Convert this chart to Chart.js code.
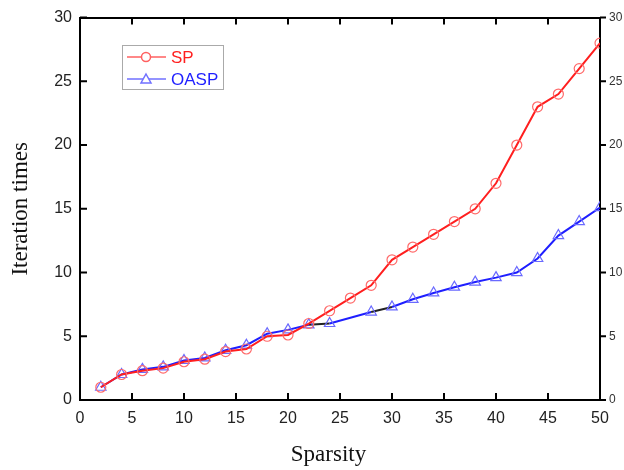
<!DOCTYPE html>
<html>
<head>
<meta charset="utf-8">
<script src="https://cdn.jsdelivr.net/npm/chart.js@4"></script>
<style>
  html, body { margin: 0; padding: 0; background: #fff; }
  #wrap { width: 624px; height: 470px; }
</style>
</head>
<body>
<div id="wrap"><canvas id="chart" width="624" height="470"></canvas></div>
<script>
// data
const sparsity = [2, 4, 6, 8, 10, 12, 14, 16, 18, 20, 22, 24, 26, 28, 30, 32, 34, 36, 38, 40, 42, 44, 46, 48, 50];
const spValues = [1, 2, 2.3, 2.5, 3, 3.2, 3.8, 4, 5, 5.1, 6, 7, 8, 9, 11, 12, 13, 14, 15, 17, 20, 23, 24, 26, 28];
const oaspSparsity = [2, 4, 6, 8, 10, 12, 14, 16, 18, 20, 22, 24, 28, 30, 32, 34, 36, 38, 40, 42, 44, 46, 48, 50];
const oaspValues = [1, 2, 2.4, 2.6, 3.1, 3.3, 3.9, 4.3, 5.2, 5.5, 5.9, 6.0, 6.9, 7.3, 7.9, 8.4, 8.85, 9.25, 9.6, 10, 11.1, 12.9, 14, 15.1];
const xTicks = [0, 5, 10, 15, 20, 25, 30, 35, 40, 45, 50];
const yTicks = [0, 5, 10, 15, 20, 25, 30];

const RED = '#ff1f1f';
const BLUE = '#1f1fff';

// petits traits de graduation vers l'intérieur + légende dans le cadre
const frameTicks = {
  id: 'frameTicks',
  afterDraw(chart) {
    const ctx = chart.ctx;
    const a = chart.chartArea;
    const x = chart.scales.x;
    const y = chart.scales.y;
    ctx.save();
    ctx.strokeStyle = '#000';
    ctx.lineWidth = 2;
    ctx.beginPath();
    xTicks.forEach(v => {
      const px = x.getPixelForValue(v);
      ctx.moveTo(px, a.bottom); ctx.lineTo(px, a.bottom - 7);
      ctx.moveTo(px, a.top); ctx.lineTo(px, a.top + 7);
    });
    yTicks.forEach(v => {
      const py = y.getPixelForValue(v);
      ctx.moveTo(a.left, py); ctx.lineTo(a.left + 7, py);
      ctx.moveTo(a.right, py); ctx.lineTo(a.right + 6, py);
    });
    ctx.stroke();

    // légende
    const lx = 122, ly = 45, lw = 101, lh = 44;
    ctx.lineWidth = 1;
    ctx.strokeStyle = '#aaa';
    ctx.fillStyle = '#fff';
    ctx.fillRect(lx, ly, lw, lh);
    ctx.strokeRect(lx + 0.5, ly + 0.5, lw, lh);
    ctx.font = '17px "Liberation Sans", Arial, sans-serif';
    ctx.textBaseline = 'middle';
    chart.data.datasets.forEach((ds, i) => {
      if (!ds.label) return;
      const cy = ly + 12 + i * 22;
      ctx.strokeStyle = ds.borderColor === RED ? '#ff6060' : '#7070ff';
      ctx.lineWidth = 1.5;
      ctx.beginPath();
      ctx.moveTo(lx + 5, cy); ctx.lineTo(lx + 44, cy);
      ctx.stroke();
      ctx.fillStyle = '#fff';
      ctx.beginPath();
      if (ds.pointStyle === 'circle') {
        ctx.arc(lx + 24, cy, 4.5, 0, Math.PI * 2);
      } else {
        ctx.moveTo(lx + 24, cy - 5); ctx.lineTo(lx + 29, cy + 4); ctx.lineTo(lx + 19, cy + 4); ctx.closePath();
      }
      ctx.fill(); ctx.stroke();
      ctx.fillStyle = ds.borderColor;
      ctx.fillText(ds.label, lx + 49, cy + 1);
    });
    ctx.restore();
  }
};

new Chart(document.getElementById('chart'), {
  type: 'line',
  data: {
    datasets: [
      {
        label: 'SP',
        data: sparsity.map((s, i) => ({ x: s, y: spValues[i] })),
        borderColor: RED,
        borderWidth: 2,
        pointStyle: 'circle',
        pointRadius: 5,
        pointBorderColor: '#ff6a6a',
        pointBackgroundColor: 'rgba(255,255,255,0)',
        pointBorderWidth: 1.2,
        tension: 0,
        order: 1
      },
      {
        label: 'OASP',
        data: oaspSparsity.map((s, i) => ({ x: s, y: oaspValues[i] })),
        borderColor: BLUE,
        borderWidth: 2,
        pointStyle: 'triangle',
        pointRadius: 6,
        pointBorderColor: '#6a6aff',
        pointBackgroundColor: 'rgba(255,255,255,0)',
        pointBorderWidth: 1.2,
        tension: 0,
        order: 2,
        segment: {
          borderColor: c => (c.p0.parsed.x === 22 || c.p0.parsed.x === 28) ? '#222' : undefined
        }
      }
    ]
  },
  options: {
    responsive: false,
    animation: false,
    layout: { padding: { top: 16, right: 0, left: 0, bottom: 0 } },
    plugins: { legend: { display: false }, tooltip: { enabled: false } },
    scales: {
      x: {
        type: 'linear',
        min: 0, max: 50,
        afterBuildTicks: s => { s.ticks = xTicks.map(v => ({ value: v })); },
        grid: { display: false, drawTicks: false },
        border: { display: true, color: '#000', width: 2 },
        ticks: { color: '#222', padding: 9, font: { size: 16, family: '"Liberation Sans", Arial, sans-serif' }, maxRotation: 0 },
        // espaces en fin de texte : le titre est un peu décalé à gauche dans l'original
        title: { display: true, text: 'Sparsity\u2002\u2002', color: '#111', padding: { bottom: 1 }, font: { size: 23, family: '"Liberation Serif", "Times New Roman", serif' } },
        afterFit: s => { s.height = 70; }
      },
      y: {
        min: 0, max: 30,
        afterBuildTicks: s => { s.ticks = yTicks.map(v => ({ value: v })); },
        grid: { display: false, drawTicks: false },
        border: { display: true, color: '#000', width: 2 },
        ticks: { color: '#222', padding: 8, font: { size: 16, family: '"Liberation Sans", Arial, sans-serif' } },
        title: { display: true, text: 'Iteration times', color: '#111', padding: { top: 7 }, font: { size: 23, family: '"Liberation Serif", "Times New Roman", serif' } },
        afterFit: s => { s.width = 80; }
      },
      y2: {
        position: 'right',
        min: 0, max: 30,
        afterBuildTicks: s => { s.ticks = yTicks.map(v => ({ value: v })); },
        grid: { display: false, drawTicks: false },
        border: { display: true, color: '#000', width: 2 },
        ticks: { color: '#333', padding: 9, font: { size: 12, family: '"Liberation Sans", Arial, sans-serif' } },
        afterFit: s => { s.width = 24; }
      },
      x2: {
        type: 'linear',
        position: 'top',
        min: 0, max: 50,
        grid: { display: false, drawTicks: false },
        border: { display: true, color: '#000', width: 2 },
        ticks: { display: false },
        afterFit: s => { s.height = 0; }
      }
    }
  },
  plugins: [frameTicks]
});
</script>
</body>
</html>
